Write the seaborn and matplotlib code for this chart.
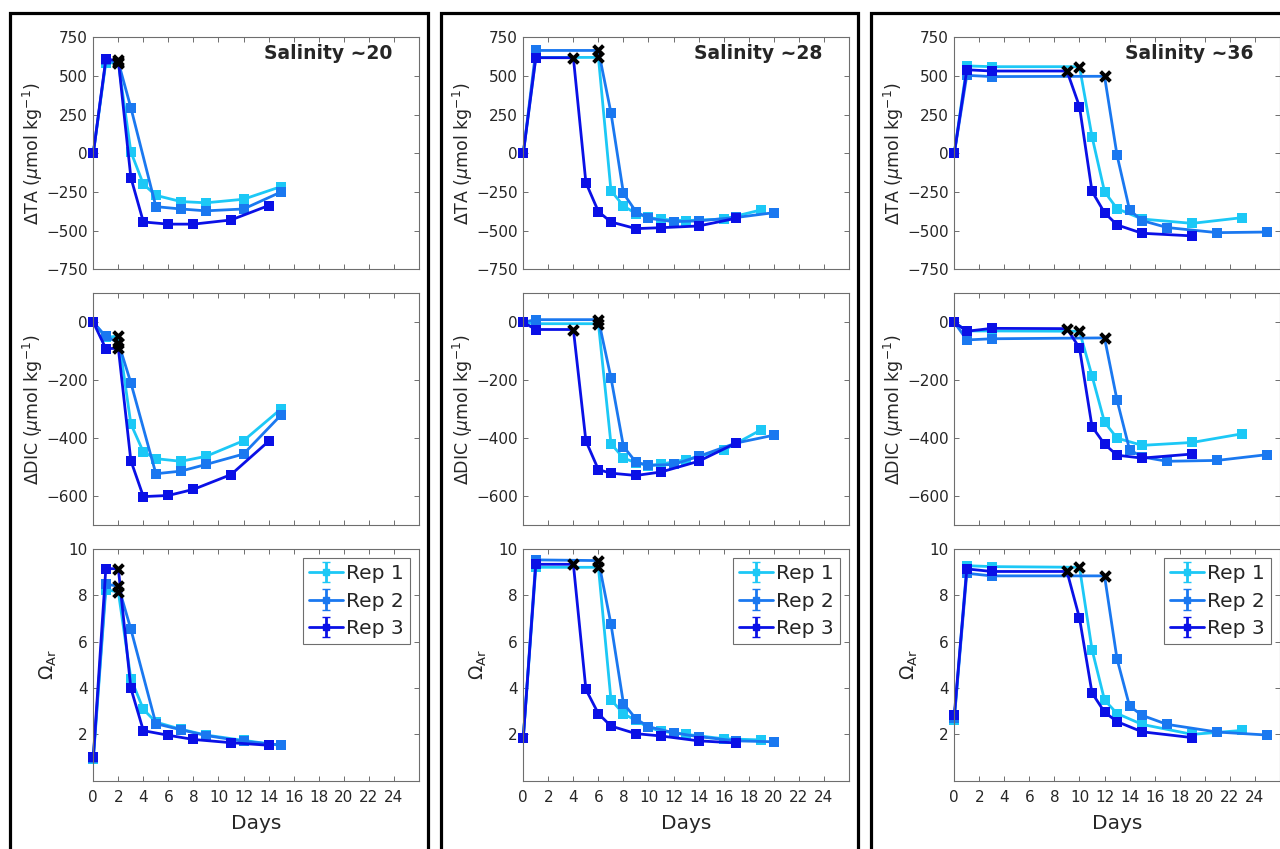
import numpy as np
import pandas as pd
import matplotlib
matplotlib.use("Agg")
import matplotlib.pyplot as plt
from matplotlib.patches import Rectangle
import seaborn as sns

# ---- data ----
# Salinity ~20
S20_DAYS_R1 = [0, 1, 2, 3, 4, 5, 7, 9, 12, 15]
S20_DAYS_R2 = [0, 1, 2, 3, 5, 7, 9, 12, 15]
S20_DAYS_R3 = [0, 1, 2, 3, 4, 6, 8, 11, 14]
S20_TA_R1 = [0, 585, 585, 10, -200, -272, -312, -320, -297, -215]
S20_TA_R2 = [0, 600, 590, 295, -345, -360, -372, -360, -250]
S20_TA_R3 = [0, 608, 600, -157, -444, -458, -458, -431, -338]
S20_DIC_R1 = [0, -52, -48, -351, -448, -471, -480, -463, -409, -299]
S20_DIC_R2 = [0, -49, -70, -209, -523, -514, -491, -455, -320]
S20_DIC_R3 = [0, -91, -90, -478, -602, -598, -577, -526, -411]
S20_OM_R1 = [0.92, 8.24, 8.15, 4.41, 3.08, 2.53, 2.22, 1.97, 1.74, 1.52]
S20_OM_R2 = [1.0, 8.48, 8.4, 6.54, 2.46, 2.2, 1.95, 1.7, 1.54]
S20_OM_R3 = [1.01, 9.15, 9.15, 3.99, 2.16, 1.96, 1.78, 1.64, 1.53]
S20_EVENT = [2, 2, 2]

# Salinity ~28
S28_DAYS_R1 = [0, 1, 6, 7, 8, 9, 10, 11, 13, 16, 19]
S28_DAYS_R2 = [0, 1, 6, 7, 8, 9, 10, 12, 14, 17, 20]
S28_DAYS_R3 = [0, 1, 4, 5, 6, 7, 9, 11, 14, 17]
S28_TA_R1 = [0, 620, 620, -241, -340, -390, -415, -427, -435, -425, -366]
S28_TA_R2 = [0, 665, 665, 263, -259, -377, -420, -442, -437, -415, -384]
S28_TA_R3 = [0, 618, 618, -190, -377, -444, -487, -481, -470, -420]
S28_DIC_R1 = [0, -5, -5, -419, -469, -485, -495, -490, -474, -442, -371]
S28_DIC_R2 = [0, 9, 9, -191, -429, -483, -494, -491, -463, -417, -390]
S28_DIC_R3 = [0, -25, -25, -410, -509, -521, -529, -517, -480, -417]
S28_OM_R1 = [1.86, 9.21, 9.21, 3.5, 2.89, 2.6, 2.3, 2.14, 2.0, 1.81, 1.76]
S28_OM_R2 = [1.86, 9.53, 9.5, 6.77, 3.33, 2.67, 2.33, 2.07, 1.9, 1.72, 1.68]
S28_OM_R3 = [1.86, 9.34, 9.34, 3.94, 2.89, 2.36, 2.03, 1.93, 1.72, 1.63]
S28_EVENT = [6, 6, 4]

# Salinity ~36
S36_DAYS_R1 = [0, 1, 3, 10, 11, 12, 13, 15, 19, 23]
S36_DAYS_R2 = [0, 1, 3, 12, 13, 14, 15, 17, 21, 25]
S36_DAYS_R3 = [0, 1, 3, 9, 10, 11, 12, 13, 15, 19]
S36_TA_R1 = [0, 565, 560, 560, 108, -248, -358, -425, -453, -416]
S36_TA_R2 = [0, 504, 496, 498, -13, -366, -435, -480, -513, -509]
S36_TA_R3 = [0, 540, 532, 532, 302, -246, -384, -463, -517, -534]
S36_DIC_R1 = [0, -30, -30, -31, -185, -345, -400, -425, -415, -385]
S36_DIC_R2 = [0, -61, -57, -54, -269, -440, -465, -480, -477, -457]
S36_DIC_R3 = [0, -31, -21, -22, -89, -360, -421, -459, -469, -455]
S36_OM_R1 = [2.64, 9.28, 9.24, 9.21, 5.66, 3.48, 2.9, 2.43, 2.0, 2.17]
S36_OM_R2 = [2.7, 8.95, 8.84, 8.84, 5.25, 3.22, 2.82, 2.43, 2.1, 1.97]
S36_OM_R3 = [2.83, 9.14, 9.03, 9.03, 7.02, 3.79, 2.96, 2.55, 2.11, 1.86]
S36_EVENT = [10, 12, 9]

SALINITY_LABELS = ["Salinity ~20", "Salinity ~28", "Salinity ~36"]
REP_LABELS = ["Rep 1", "Rep 2", "Rep 3"]
REP_COLORS = ["#1cc8f6", "#1a78f0", "#0a10e6"]

columns = [
    ([S20_DAYS_R1, S20_DAYS_R2, S20_DAYS_R3],
     [S20_TA_R1, S20_TA_R2, S20_TA_R3],
     [S20_DIC_R1, S20_DIC_R2, S20_DIC_R3],
     [S20_OM_R1, S20_OM_R2, S20_OM_R3], S20_EVENT),
    ([S28_DAYS_R1, S28_DAYS_R2, S28_DAYS_R3],
     [S28_TA_R1, S28_TA_R2, S28_TA_R3],
     [S28_DIC_R1, S28_DIC_R2, S28_DIC_R3],
     [S28_OM_R1, S28_OM_R2, S28_OM_R3], S28_EVENT),
    ([S36_DAYS_R1, S36_DAYS_R2, S36_DAYS_R3],
     [S36_TA_R1, S36_TA_R2, S36_TA_R3],
     [S36_DIC_R1, S36_DIC_R2, S36_DIC_R3],
     [S36_OM_R1, S36_OM_R2, S36_OM_R3], S36_EVENT),
]

# ---- styling ----
sns.set_style("ticks")
plt.rcParams.update({
    "font.family": ["DejaVu Sans"],
    "axes.edgecolor": "#6e6e6e",
    "axes.linewidth": 0.8,
    "xtick.color": "#6e6e6e",
    "ytick.color": "#6e6e6e",
    "xtick.labelcolor": "#262626",
    "ytick.labelcolor": "#262626",
    "xtick.direction": "in",
    "ytick.direction": "in",
    "xtick.major.size": 3.5,
    "ytick.major.size": 3.5,
    "xtick.major.pad": 6.5,
    "ytick.major.pad": 4.0,
    "xtick.labelsize": 11,
    "ytick.labelsize": 11,
    "axes.labelcolor": "#262626",
})

W, H = 1280, 849
fig = plt.figure(figsize=(W / 100, H / 100), dpi=100)

col_left = [93.3, 523.3, 954.3]
ax_w = 325.5
rows = [(37.3, 269.3), (293.3, 525.0), (549.0, 780.7)]

ylabels = [r"$\Delta$TA ($\mu$mol kg$^{-1}$)",
           r"$\Delta$DIC ($\mu$mol kg$^{-1}$)",
           r"$\Omega_{\rm Ar}$"]
ylabel_x = [-0.148, -0.148, -0.105]
ylims = [(-750, 750), (-700, 100), (0, 10)]
yticks = [[-750, -500, -250, 0, 250, 500, 750],
          [-600, -400, -200, 0],
          [2, 4, 6, 8, 10]]

# column frames
for x0, x1 in [(10, 428), (440.5, 858), (871, 1295)]:
    fig.patches.append(Rectangle((x0 / W, -0.05), (x1 - x0) / W, 1.05 - 13 / H,
                                 transform=fig.transFigure, fill=False,
                                 edgecolor="black", linewidth=2.3, zorder=0))

for c, (days_list, ta_list, dic_list, om_list, events) in enumerate(columns):
    for r, vals_list in enumerate([ta_list, dic_list, om_list]):
        top, bot = rows[r]
        ax = fig.add_axes([col_left[c] / W, 1 - bot / H, ax_w / W, (bot - top) / H])
        for k in range(3):
            df = pd.DataFrame({"day": days_list[k], "val": vals_list[k]})
            keep = [i for i, d in enumerate(df["day"]) if d != events[k]]
            sns.lineplot(data=df, x="day", y="val", ax=ax, color=REP_COLORS[k],
                         linewidth=2.0, marker="s", markersize=7.5,
                         markeredgewidth=0, markevery=keep, errorbar=None,
                         legend=False, clip_on=False)
        for k in range(3):
            df = pd.DataFrame({"day": days_list[k], "val": vals_list[k]})
            ev = df[df["day"] == events[k]]
            sns.scatterplot(data=ev, x="day", y="val", ax=ax, marker="x",
                            color="black", s=50, linewidth=2.8, zorder=5,
                            legend=False)
        ax.set_xlim(0, 26)
        ax.set_xticks(np.arange(0, 25, 2))
        ax.set_ylim(*ylims[r])
        ax.set_yticks(yticks[r])
        ax.tick_params(top=True, right=True, width=0.7)
        ax.set_ylabel(ylabels[r], fontsize=12.5 if r < 2 else 13.5)
        ax.yaxis.set_label_coords(ylabel_x[r], 0.5)
        if r < 2:
            ax.set_xlabel("")
            ax.set_xticklabels([])
        else:
            ax.set_xlabel("Days", fontsize=14.5, labelpad=7)
        if r == 0:
            ax.text(0.92, 0.93, SALINITY_LABELS[c], transform=ax.transAxes,
                    ha="right", va="center", fontsize=13.5, fontweight="bold")
        if r == 2:
            handles = []
            for k in range(3):
                h = ax.errorbar([np.nan], [np.nan], yerr=[np.nan], fmt="-s",
                                color=REP_COLORS[k], linewidth=2.0, markersize=5,
                                capsize=3, elinewidth=2.0, label=REP_LABELS[k])
                handles.append(h)
            leg = ax.legend(handles=handles, labels=REP_LABELS, loc="upper right",
                            fontsize=14.5, frameon=True, fancybox=False,
                            edgecolor="#6e6e6e", framealpha=1,
                            handlelength=1.7, handletextpad=0.15,
                            labelspacing=0.42, borderpad=0.3,
                            borderaxespad=0.45)
            leg.get_frame().set_linewidth(0.8)

fig.savefig("out.png", dpi=100)
